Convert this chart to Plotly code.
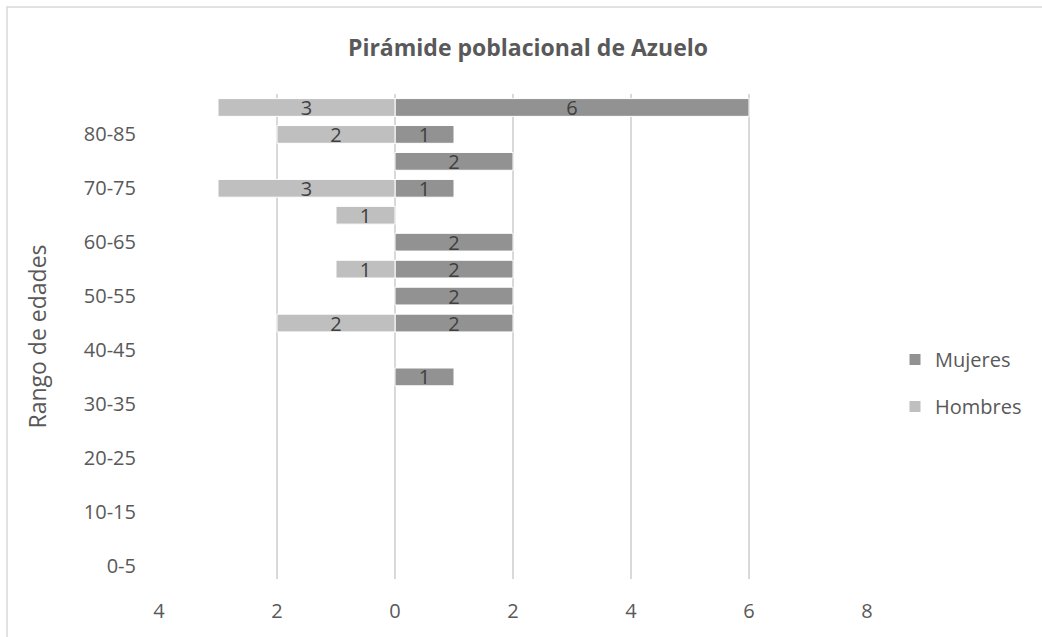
import plotly.graph_objects as go

categorias = ["0-5", "5-10", "10-15", "15-20", "20-25", "25-30", "30-35", "35-40", "40-45",
              "45-50", "50-55", "55-60", "60-65", "65-70", "70-75", "75-80", "80-85", "85-90"]
mujeres = [0, 0, 0, 0, 0, 0, 0, 1, 0, 2, 2, 2, 2, 0, 1, 2, 1, 6]
hombres = [0, 0, 0, 0, 0, 0, 0, 0, 0, 2, 0, 1, 0, 1, 3, 0, 2, 3]
etiquetas_y = ["0-5", "10-15", "20-25", "30-35", "40-45", "50-55", "60-65", "70-75", "80-85"]
ticks_x = [-4, -2, 0, 2, 4, 6, 8]
texto_x = ["4", "2", "0", "2", "4", "6", "8"]

FONT = "Open Sans"
W, H = 1042, 637
L, R, T, B = 159, 175, 94, 58

m_x = [v if v else None for v in mujeres]
h_x = [-v if v else None for v in hombres]

fig = go.Figure()
fig.add_trace(go.Bar(
    y=categorias, x=m_x, orientation="h", name="Mujeres",
    marker=dict(color="#929292", line=dict(color="white", width=1)),
    text=[str(v) if v else "" for v in mujeres], textposition="inside",
    insidetextanchor="middle", textangle=0, constraintext="none",
    textfont=dict(family=FONT, size=20, color="#404040"),
    legendgroup="m", hoverinfo="skip",
))
fig.add_trace(go.Bar(
    y=categorias, x=h_x, orientation="h", name="Hombres",
    marker=dict(color="#bfbfbf", line=dict(color="white", width=1)),
    text=[str(v) if v else "" for v in hombres], textposition="inside",
    insidetextanchor="middle", textangle=0, constraintext="none",
    textfont=dict(family=FONT, size=20, color="#404040"),
    legendgroup="h", hoverinfo="skip",
))

pw = W - L - R
ph = H - T - B
fig.update_layout(
    width=W, height=H,
    margin=dict(l=L, r=R, t=T, b=B),
    paper_bgcolor="white", plot_bgcolor="white",
    barmode="relative", bargap=0.34,
    font=dict(family=FONT, size=20, color="#595959"),
    title=dict(text="<b>Pirámide poblacional de Azuelo</b>", x=528 / W, xanchor="center",
               y=1 - 48 / H, yanchor="middle",
               font=dict(family=FONT, size=23, color="#595959")),
    xaxis=dict(range=[-4, 8], tickvals=ticks_x, ticktext=texto_x,
               showgrid=True, gridcolor="#d9d9d9", gridwidth=1.5,
               zeroline=False, showline=False, ticks="",
               ticklabelstandoff=18, tickfont=dict(size=20, color="#595959"),
               fixedrange=True),
    yaxis=dict(type="category", categoryorder="array", categoryarray=categorias,
               range=[-0.5, len(categorias) - 0.5],
               tickmode="array", tickvals=etiquetas_y, ticktext=etiquetas_y,
               showgrid=False, zeroline=False, showline=False, ticks="",
               ticklabelstandoff=22, tickfont=dict(size=20, color="#595959"),
               title=dict(text="Rango de edades", standoff=30,
                          font=dict(size=23, color="#595959")),
               fixedrange=True),
    legend=dict(x=(895 - L) / pw, xanchor="left", y=1 - (340 - T) / ph, yanchor="top",
                traceorder="grouped", tracegroupgap=18,
                font=dict(size=20, color="#595959"), bgcolor="rgba(0,0,0,0)"),
    showlegend=True,
    shapes=[dict(type="rect", xref="paper", yref="paper",
                 x0=(7 - L) / pw, x1=(W + 10 - L) / pw,
                 y0=-(H + 10 - T - ph) / ph, y1=1 + (T - 7) / ph,
                 line=dict(color="#d9d9d9", width=1.5), fillcolor="rgba(0,0,0,0)",
                 layer="below")],
)

fig.write_html("out.html")
